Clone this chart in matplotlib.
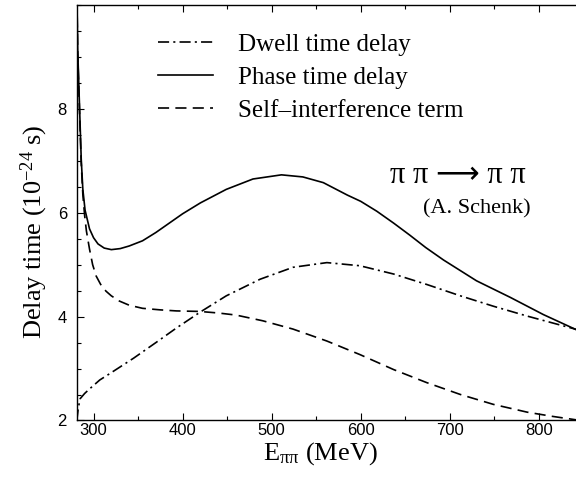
import matplotlib
matplotlib.use('Agg')
import matplotlib.pyplot as plt
from matplotlib.ticker import MultipleLocator

plt.rcParams['lines.scale_dashes'] = False
plt.rcParams['mathtext.fontset'] = 'custom'
plt.rcParams['mathtext.rm'] = 'Liberation Serif'
plt.rcParams['mathtext.it'] = 'Liberation Serif:italic'

# phase time delay (solid)
e_phase = [281.2, 282.2, 284, 286.2, 288, 290.5, 295.5, 300, 305, 312, 320, 330, 340, 355,
           370, 385, 400, 420, 449, 479, 511, 535, 558, 585, 600, 618, 637, 655, 673, 693, 730,
           768, 805, 843]
t_phase = [10.3, 9.16, 8.19, 7.03, 6.45, 6.05, 5.69, 5.52, 5.40, 5.32, 5.29, 5.31, 5.36, 5.46,
           5.62, 5.80, 5.98, 6.19, 6.45, 6.65, 6.73, 6.69, 6.58, 6.34, 6.22, 6.03, 5.80, 5.57,
           5.33, 5.09, 4.69, 4.37, 4.04, 3.74]

# self-interference term (dashed)
e_self = [281.2, 282.2, 284, 286.2, 288, 290, 292, 295.5, 299, 303, 308, 314, 320, 329, 340,
          355, 375, 393, 419, 440, 460, 490, 524, 562, 599, 637, 674, 712, 749, 787, 815, 843]
t_self = [10.3, 9.1, 8.1, 6.95, 6.35, 5.95, 5.65, 5.30, 5.00, 4.78, 4.62, 4.49, 4.40, 4.30, 4.22,
          4.16, 4.13, 4.11, 4.10, 4.07, 4.03, 3.92, 3.76, 3.53, 3.27, 2.98, 2.73, 2.50, 2.31,
          2.16, 2.08, 2.01]

# dwell time delay (dash-dot)
e_dwell = [281.2, 283, 285, 290, 295, 307, 318, 345, 370, 393, 420, 449, 487, 524, 562, 599,
           637, 674, 712, 749, 787, 843]
t_dwell = [2.0, 2.25, 2.42, 2.52, 2.6, 2.78, 2.9, 3.2, 3.5, 3.78, 4.09, 4.40, 4.72, 4.95, 5.04,
           4.98, 4.82, 4.62, 4.40, 4.20, 4.01, 3.75]

serif = ['Liberation Serif', 'DejaVu Serif']

fig = plt.figure(figsize=(5.76, 4.78), dpi=100)
ax = fig.add_axes([0.133, 0.1203, 0.869, 0.8692])

lw = 1.2
ax.plot(e_dwell, t_dwell, color='black', lw=lw, dashes=(8, 3, 1.5, 3), label='Dwell time delay')
ax.plot(e_phase, t_phase, color='black', lw=lw, label='Phase time delay')
ax.plot(e_self, t_self, color='black', lw=lw, dashes=(8, 4.5), label='Self\u2013interference term')

ax.set_xlim(281, 843)
ax.set_ylim(2, 10)
ax.xaxis.set_major_locator(MultipleLocator(100))
ax.xaxis.set_minor_locator(MultipleLocator(50))
ax.set_yticks([2, 4, 6, 8])
ax.yaxis.set_minor_locator(MultipleLocator(0.5))
ax.tick_params(which='both', direction='in', top=True, right=False, width=0.8)
ax.tick_params(which='major', length=5)
ax.tick_params(which='minor', length=3)
ax.tick_params(axis='x', pad=2)
ax.tick_params(axis='y', pad=7)
for lab in ax.get_xticklabels() + ax.get_yticklabels():
    lab.set_fontfamily('Liberation Sans')
    lab.set_fontsize(12)
for s in ax.spines.values():
    s.set_linewidth(1.0)

ax.set_xlabel(r'E$_{\mathregular{\pi\pi}}$ (MeV)', fontsize=19, family=serif)
ax.set_ylabel(r'Delay time (10$^{\mathregular{-24}}$ s)', fontsize=19, family=serif)
ax.xaxis.set_label_coords(0.4875, -0.047)
ax.yaxis.set_label_coords(-0.053, 0.4537)

leg = ax.legend(loc='upper left', bbox_to_anchor=(0.163, 0.932), frameon=False,
                prop={'family': serif, 'size': 18}, handlelength=2.2, handletextpad=1.0,
                labelspacing=0.42, borderpad=0, borderaxespad=0)

ax.text(0.897, 0.59, 'π π \u27f6 π π', transform=ax.transAxes, ha='right', va='center',
        fontsize=22, family=['Liberation Serif', 'DejaVu Sans'])
ax.text(0.907, 0.51, '(A. Schenk)', transform=ax.transAxes, ha='right', va='center',
        fontsize=16, family=serif)

fig.savefig('out.png', dpi=100)
